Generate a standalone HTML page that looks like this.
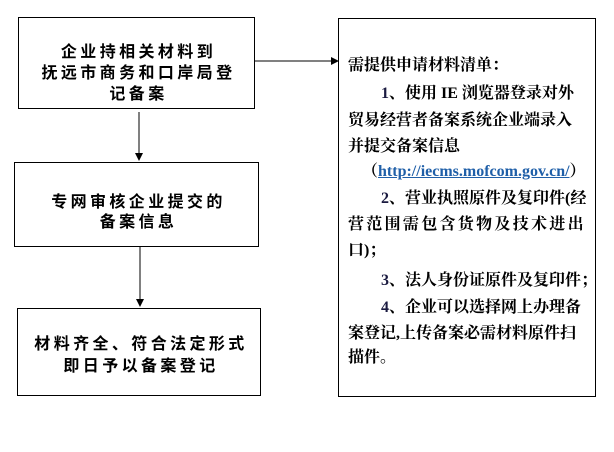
<!DOCTYPE html>
<html><head><meta charset="utf-8"><style>
body{margin:0;width:614px;height:452px;background:#fff;position:relative;overflow:hidden;font-family:"Liberation Serif","Noto Serif CJK SC","Noto Sans CJK SC",serif;font-weight:bold;color:#000}
.b{position:absolute;border:1px solid #000;box-sizing:border-box}
.t{position:absolute;white-space:nowrap;font-family:"Liberation Sans","Noto Sans CJK SC",sans-serif;font-size:16px;letter-spacing:3.4px;text-align:center;line-height:21px}
.r{position:absolute;left:348px;white-space:nowrap;font-size:16px;line-height:18px}
.n{color:#1a1a40}
a{color:#1f5fa8;text-decoration:underline}
</style></head><body>
<div class="b" style="left:18px;top:17px;width:237px;height:92px"></div>
<div class="b" style="left:14px;top:162px;width:245px;height:85px"></div>
<div class="b" style="left:17px;top:308px;width:244px;height:88px"></div>
<div class="b" style="left:338px;top:18px;width:258px;height:379px"></div>
<svg width="614" height="452" style="position:absolute;left:0;top:0">
<line x1="255" y1="61" x2="332" y2="61" stroke="#000" stroke-width="1"/>
<polygon points="331,57 339,61 331,65" fill="#000"/>
<line x1="139" y1="112" x2="139" y2="154" stroke="#000"/>
<polygon points="135,153 139,161 143,153" fill="#000"/>
<line x1="140" y1="247" x2="140" y2="300" stroke="#000"/>
<polygon points="136,299 140,307 144,299" fill="#000"/>
</svg>
<div class="t" style="left:18px;width:241px;top:42px">企业持相关材料到</div>
<div class="t" style="left:18px;width:241px;top:63px">抚远市商务和口岸局登</div>
<div class="t" style="left:18px;width:241px;top:84px">记备案</div>
<div class="t" style="left:14px;width:249px;top:192px">专网审核企业提交的</div>
<div class="t" style="left:14px;width:249px;top:212px">备案信息</div>
<div class="t" style="left:17px;width:248px;top:334px">材料齐全、符合法定形式</div>
<div class="t" style="left:17px;width:248px;top:356px">即日予以备案登记</div>
<div class="r" style="top:57px">需提供申请材料清单：</div>
<div class="r" style="top:85px;left:381px"><span class="n">1</span>、使用 IE 浏览器登录对外</div>
<div class="r" style="top:112px">贸易经营者备案系统企业端录入</div>
<div class="r" style="top:138px">并提交备案信息</div>
<div class="r" style="top:163px;left:362px">（<a>http://iecms.mofcom.gov.cn/</a>）</div>
<div class="r" style="top:190px;left:381px"><span class="n">2</span>、营业执照原件及复印件(经</div>
<div class="r" style="top:216px;letter-spacing:2.3px">营范围需包含货物及技术进出</div>
<div class="r" style="top:242px">口)；</div>
<div class="r" style="top:272px;left:381px"><span class="n">3</span>、法人身份证原件及复印件；</div>
<div class="r" style="top:299px;left:381px"><span class="n">4</span>、企业可以选择网上办理备</div>
<div class="r" style="top:325px">案登记,上传备案必需材料原件扫</div>
<div class="r" style="top:349px">描件。</div>
</body></html>
